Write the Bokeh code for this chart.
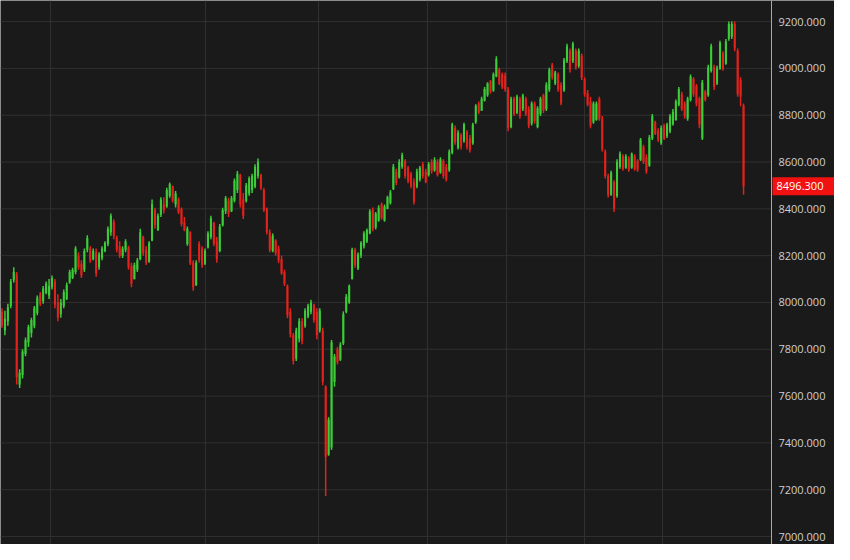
from bokeh.plotting import figure
from bokeh.models import ColumnDataSource, Range1d, FixedTicker
from bokeh.embed import file_html
from bokeh.resources import INLINE
from bokeh.core.properties import value

# ---- data ----
open_ = [
    7960, 7880, 7920, 7985, 8095, 8120, 7650, 7690, 7780, 7830,
    7870, 7900, 7955, 8035, 8005, 8040, 8030, 8065, 8090, 8000,
    7950, 7985, 8015, 8085, 8105, 8130, 8200, 8165, 8140, 8225,
    8230, 8185, 8215, 8150, 8190, 8220, 8250, 8300, 8345, 8275,
    8240, 8200, 8225, 8235, 8155, 8100, 8140, 8185, 8280, 8225,
    8175, 8265, 8395, 8310, 8375, 8420, 8410, 8455, 8495, 8420,
    8440, 8400, 8345, 8250, 8300, 8170, 8075, 8250, 8230, 8165,
    8235, 8280, 8340, 8260, 8220, 8330, 8390, 8435, 8390, 8435,
    8480, 8545, 8440, 8435, 8465, 8480, 8495, 8540, 8545, 8480,
    8400, 8300, 8220, 8265, 8230, 8185, 8130, 8070, 7960, 7860,
    7760, 7845, 7920, 7900, 7940, 7960, 7990, 7960, 7880, 7880,
    7640, 7350, 7380, 7660, 7800, 7755, 7825, 7960, 8000, 8100,
    8225, 8145, 8200, 8240, 8260, 8295, 8395, 8320, 8350, 8420,
    8350, 8400, 8425, 8485, 8560, 8535, 8580, 8605, 8575, 8550,
    8515, 8495, 8525, 8590, 8560, 8545, 8600, 8565, 8600, 8555,
    8605, 8580, 8565, 8640, 8745, 8660, 8715, 8690, 8730, 8700,
    8680, 8770, 8850, 8820, 8862, 8885, 8945, 8905, 8965, 8995,
    8975, 8970, 8910, 8750, 8870, 8810, 8870, 8825, 8870, 8825,
    8765, 8850, 8750, 8805, 8885, 8825, 8910, 9015, 8935, 8975,
    8930, 8905, 9030, 9075, 9030, 9075, 9010, 9055, 8955, 8895,
    8860, 8770, 8780, 8870, 8785, 8645, 8540, 8460, 8515, 8455,
    8580, 8625, 8575, 8615, 8575, 8625, 8605, 8610, 8665, 8620,
    8585, 8700, 8770, 8735, 8680, 8755, 8710, 8730, 8760, 8780,
    8845, 8890, 8850, 8785, 8865, 8955, 8925, 8870, 8700, 8900,
    8885, 8990, 9005, 8935, 9000, 9065, 9020, 9125, 9135, 9190,
    9075, 8950, 8840,
]
high = [
    7975, 7965, 7995, 8100, 8150, 8130, 7715, 7800, 7850, 7905,
    7935, 7985, 8030, 8045, 8070, 8090, 8100, 8115, 8100, 8035,
    8015, 8055, 8085, 8140, 8148, 8240, 8215, 8180, 8230, 8287,
    8240, 8230, 8230, 8215, 8240, 8262, 8325, 8380, 8355, 8285,
    8262, 8240, 8270, 8242, 8170, 8170, 8190, 8315, 8285, 8240,
    8262, 8440, 8405, 8380, 8450, 8450, 8490, 8512, 8500, 8476,
    8448, 8406, 8365, 8325, 8304, 8180, 8180, 8262, 8240, 8230,
    8304, 8370, 8345, 8280, 8335, 8405, 8455, 8447, 8455, 8530,
    8562, 8550, 8468, 8510, 8538, 8550, 8590, 8615, 8550, 8490,
    8406, 8312, 8295, 8270, 8242, 8200, 8140, 8077, 7975, 7870,
    7892, 7933, 7933, 7975, 7995, 8012, 7995, 7975, 7975, 7892,
    7646, 7510, 7840, 7780, 7810, 7830, 7962, 8036, 8077, 8234,
    8234, 8213, 8262, 8304, 8316, 8398, 8406, 8386, 8415, 8427,
    8419, 8456, 8480, 8591, 8571, 8612, 8640, 8612, 8583, 8558,
    8530, 8571, 8583, 8600, 8571, 8600, 8612, 8620, 8612, 8620,
    8612, 8591, 8653, 8768, 8756, 8736, 8723, 8768, 8736, 8715,
    8768, 8847, 8858, 8879, 8920, 8941, 8950, 8982, 9052, 9003,
    8982, 8982, 8920, 8879, 8879, 8887, 8879, 8892, 8879, 8838,
    8858, 8858, 8838, 8879, 8892, 8941, 9003, 9023, 8990, 8982,
    8941, 9044, 9105, 9085, 9114, 9085, 9085, 9064, 8962, 8908,
    8879, 8858, 8858, 8879, 8797, 8653, 8550, 8563, 8522, 8612,
    8645, 8633, 8633, 8625, 8641, 8633, 8612, 8703, 8674, 8633,
    8715, 8805, 8776, 8744, 8756, 8764, 8768, 8805, 8826, 8867,
    8920, 8900, 8858, 8879, 8974, 8962, 8933, 8879, 8950, 8908,
    9015, 9105, 9015, 9011, 9118, 9073, 9126, 9200, 9200, 9200,
    9085, 8962, 8850,
]
low = [
    7892, 7860, 7900, 7975, 8085, 7650, 7635, 7675, 7770, 7810,
    7850, 7890, 7945, 7985, 7995, 8035, 8015, 8055, 7975, 7920,
    7935, 7975, 8010, 8080, 8100, 8120, 8140, 8105, 8130, 8215,
    8170, 8180, 8110, 8140, 8180, 8215, 8240, 8285, 8270, 8215,
    8190, 8190, 8215, 8140, 8065, 8098, 8130, 8180, 8200, 8160,
    8170, 8262, 8315, 8305, 8365, 8380, 8405, 8447, 8427, 8406,
    8378, 8325, 8304, 8242, 8160, 8050, 8070, 8170, 8148, 8160,
    8230, 8270, 8240, 8170, 8215, 8325, 8378, 8365, 8386, 8427,
    8468, 8406, 8357, 8427, 8456, 8468, 8488, 8530, 8480, 8386,
    8290, 8215, 8215, 8200, 8168, 8118, 8070, 7933, 7851, 7735,
    7750, 7830, 7822, 7892, 7933, 7950, 7913, 7843, 7872, 7646,
    7173, 7345, 7370, 7640, 7735, 7750, 7818, 7954, 7995, 8098,
    8148, 8139, 8190, 8230, 8254, 8291, 8304, 8312, 8345, 8353,
    8345, 8398, 8419, 8480, 8501, 8530, 8571, 8530, 8509, 8488,
    8419, 8488, 8517, 8530, 8509, 8538, 8550, 8558, 8538, 8550,
    8530, 8517, 8558, 8633, 8674, 8653, 8653, 8682, 8653, 8641,
    8674, 8764, 8805, 8818, 8858, 8879, 8892, 8900, 8962, 8929,
    8912, 8900, 8731, 8744, 8797, 8805, 8785, 8818, 8797, 8744,
    8756, 8764, 8744, 8797, 8809, 8818, 8900, 8953, 8929, 8900,
    8842, 8900, 9023, 8982, 9023, 8995, 9003, 8950, 8879, 8838,
    8744, 8764, 8776, 8776, 8645, 8530, 8448, 8456, 8386, 8447,
    8571, 8563, 8571, 8558, 8571, 8563, 8558, 8604, 8591, 8550,
    8580, 8694, 8715, 8686, 8674, 8694, 8703, 8723, 8756, 8776,
    8838, 8818, 8785, 8776, 8858, 8879, 8838, 8744, 8694, 8858,
    8879, 8982, 8908, 8929, 8994, 8990, 9015, 9118, 9126, 9073,
    8879, 8838, 8460,
]
close = [
    7900, 7930, 7980, 8090, 8130, 7680, 7700, 7790, 7840, 7895,
    7925, 7975, 8020, 7995, 8060, 8080, 8070, 8105, 7990, 7935,
    8000, 8045, 8075, 8130, 8140, 8230, 8150, 8115, 8220, 8275,
    8180, 8220, 8125, 8205, 8230, 8255, 8315, 8370, 8285, 8225,
    8200, 8230, 8260, 8150, 8080, 8160, 8180, 8300, 8210, 8170,
    8255, 8420, 8330, 8370, 8440, 8395, 8480, 8505, 8435, 8465,
    8385, 8335, 8310, 8315, 8170, 8065, 8170, 8180, 8160, 8220,
    8295, 8360, 8250, 8185, 8325, 8395, 8445, 8380, 8445, 8520,
    8550, 8420, 8370, 8500, 8530, 8540, 8580, 8600, 8490, 8395,
    8300, 8225, 8285, 8210, 8180, 8125, 8080, 7945, 7865, 7750,
    7880, 7920, 7835, 7965, 7985, 8000, 7925, 7860, 7965, 7660,
    7340, 7500, 7830, 7770, 7745, 7820, 7950, 8025, 8070, 8225,
    8160, 8205, 8255, 8295, 8310, 8390, 8315, 8380, 8405, 8360,
    8410, 8450, 8470, 8580, 8510, 8600, 8630, 8540, 8520, 8495,
    8430, 8560, 8575, 8540, 8515, 8590, 8560, 8610, 8545, 8612,
    8540, 8525, 8645, 8760, 8685, 8725, 8665, 8760, 8665, 8650,
    8760, 8840, 8812, 8870, 8912, 8935, 8900, 8975, 9040, 8935,
    8920, 8910, 8745, 8870, 8805, 8880, 8795, 8885, 8805, 8755,
    8850, 8775, 8830, 8870, 8820, 8930, 8995, 8962, 8982, 8910,
    8850, 9035, 9095, 8995, 9105, 9005, 9075, 8960, 8890, 8845,
    8755, 8850, 8850, 8785, 8655, 8540, 8460, 8555, 8400, 8600,
    8635, 8570, 8625, 8565, 8635, 8570, 8565, 8695, 8600, 8560,
    8705, 8795, 8720, 8695, 8745, 8700, 8760, 8795, 8815, 8860,
    8912, 8825, 8795, 8870, 8965, 8890, 8850, 8760, 8940, 8865,
    9005, 9095, 8920, 9000, 9110, 9000, 9115, 9190, 9190, 9085,
    8890, 8880, 8496.3,
]
# month boundaries (bar index) where the vertical grid lines fall
month_breaks = [16.5, 69.2, 107.5, 144.5, 171.5, 197.8, 224.5]
y_ticks = [7000, 7200, 7400, 7600, 7800, 8000, 8200, 8400, 8600, 8800, 9000, 9200]

UP = "#3ccc38"
DOWN = "#e3221c"
BG = "#1a1a1a"
GRID = "#303030"
TXT = "#cfcfcf"

W, H = 834, 544           # figure size
AXIS_PX = 771             # pixel column of the price-axis line
Y0, Y1 = 6966, 9290       # price range shown

n = len(close)
x_start = -0.5
axis_x = n + 8.5                                  # empty space right of last bar
ux = (axis_x - x_start) / AXIS_PX                 # data units per pixel (x)
x_end = x_start + W * ux
uy = (Y1 - Y0) / H                                # data units per pixel (y)

idx = list(range(n))
colors = [UP if c >= o else DOWN for o, c in zip(open_, close)]
src = ColumnDataSource(dict(
    x=idx, o=open_, h=high, l=low, c=close,
    top=[max(o, c) for o, c in zip(open_, close)],
    bottom=[min(o, c) for o, c in zip(open_, close)],
    color=colors,
))

p = figure(width=W, height=H, output_backend="svg", toolbar_location=None,
           x_range=Range1d(x_start, x_end), y_range=Range1d(Y0, Y1),
           x_axis_location=None, y_axis_location=None,
           background_fill_color=BG, border_fill_color=BG, outline_line_color=None,
           min_border_left=0, min_border_top=0, min_border_bottom=0, min_border_right=0)

# vertical month grid lines
p.xgrid.ticker = FixedTicker(ticks=month_breaks)
p.xgrid.grid_line_color = GRID
p.ygrid.visible = False

# horizontal price grid lines, stopping at the axis line
p.segment(x0=[x_start] * len(y_ticks), x1=[axis_x] * len(y_ticks),
          y0=y_ticks, y1=y_ticks, line_color=GRID, line_width=1)

# candles
p.segment(x0="x", y0="l", x1="x", y1="h", line_color="color", line_width=1.5, source=src)
p.vbar(x="x", width=0.7, top="top", bottom="bottom", fill_color="color",
       line_color=None, source=src)

# price axis on the right
p.segment(x0=[axis_x], x1=[axis_x], y0=[Y0], y1=[Y1], line_color="#a8a8a8", line_width=1)
p.text(x=[axis_x] * len(y_ticks), y=y_ticks, text=[f"{t:.3f}" for t in y_ticks],
       x_offset=7, text_align="left", text_baseline="middle", text_color=TXT,
       text_font=value("Open Sans"), text_font_size=value("11px"))

# last price tag
p.quad(left=[axis_x + ux], right=[x_end], bottom=[close[-1] - 9 * uy], top=[close[-1] + 9 * uy],
       fill_color="#f21111", line_color=None)
p.text(x=[axis_x], y=[close[-1]], text=[f"{close[-1]:.3f}"],
       x_offset=5, text_align="left", text_baseline="middle", text_color="#ffffff",
       text_font=value("Open Sans"), text_font_size=value("11px"))

html = file_html(p, INLINE)
html = html.replace("<body>", '<body style="background:#1a1a1a">', 1)
open("out.html", "w").write(html)
